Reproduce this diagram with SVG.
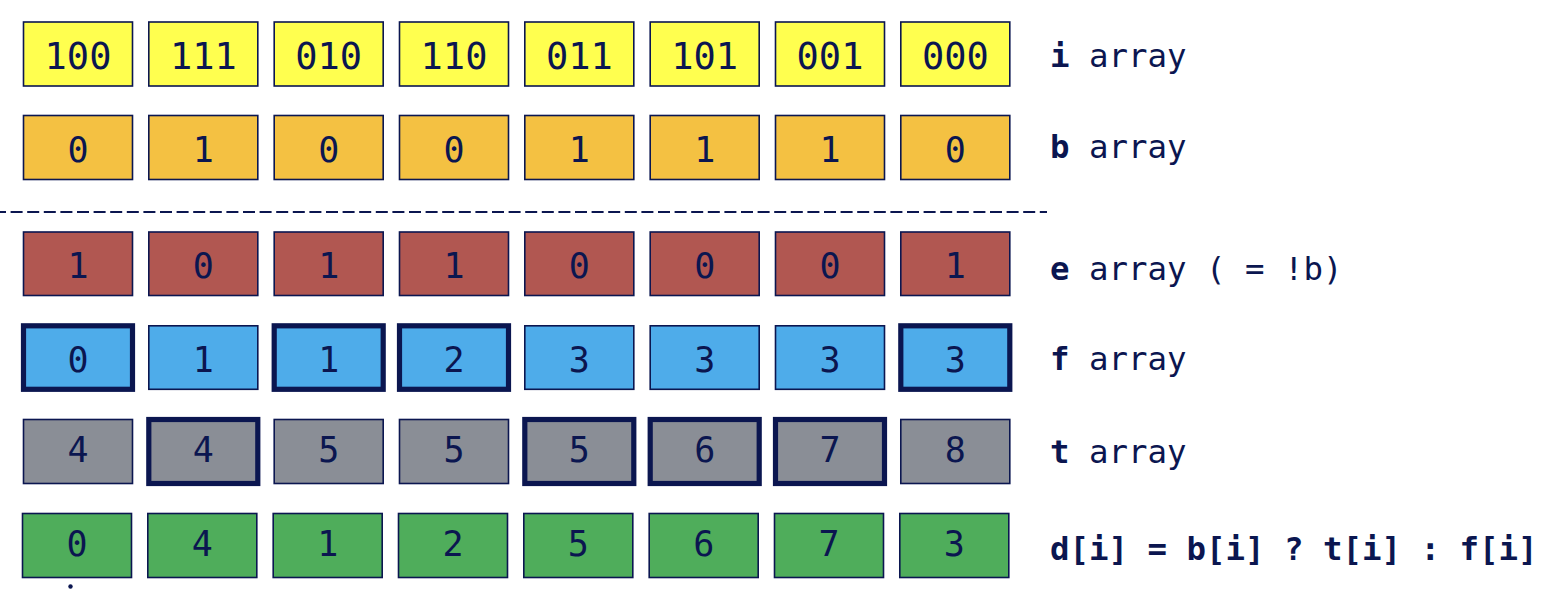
<svg xmlns="http://www.w3.org/2000/svg" width="1556" height="594" viewBox="0 0 1556 594">
<style>
.box{stroke:#0b1650;stroke-width:1.6}
.thick{stroke:#0b1650;stroke-width:5.2}
.num{font-family:"DejaVu Sans Mono",monospace;font-size:35px;fill:#0b1650;text-anchor:middle}
.big{font-size:37px}
.lbl{font-family:"DejaVu Sans Mono",monospace;font-size:32.4px;fill:#0b1650}
.b{font-weight:bold}
.yi{fill:#ffff4f}.yb{fill:#f4c142}.ye{fill:#b15751}.yf{fill:#4eacea}.yt{fill:#8a8e96}.yd{fill:#4fad5b}
</style>
<rect width="1556" height="594" fill="#ffffff"/>
<g id="connectors">
<line x1="0" y1="212" x2="1047" y2="212" stroke="#0b1650" stroke-width="1.8" stroke-dasharray="12,4.6" stroke-dashoffset="6"/>
<circle cx="70.5" cy="586.5" r="2.2" fill="#0b1650"/>
</g>
<g id="row-i">
<rect class="box yi" x="23.5" y="22" width="109" height="64"/><text class="num big" x="78" y="68.5">100</text>
<rect class="box yi" x="148.8" y="22" width="109" height="64"/><text class="num big" x="203.3" y="68.5">111</text>
<rect class="box yi" x="274.2" y="22" width="109" height="64"/><text class="num big" x="328.7" y="68.5">010</text>
<rect class="box yi" x="399.5" y="22" width="109" height="64"/><text class="num big" x="454" y="68.5">110</text>
<rect class="box yi" x="524.8" y="22" width="109" height="64"/><text class="num big" x="579.3" y="68.5">011</text>
<rect class="box yi" x="650.2" y="22" width="109" height="64"/><text class="num big" x="704.7" y="68.5">101</text>
<rect class="box yi" x="775.5" y="22" width="109" height="64"/><text class="num big" x="830" y="68.5">001</text>
<rect class="box yi" x="900.8" y="22" width="109" height="64"/><text class="num big" x="955.3" y="68.5">000</text>
<text class="lbl" x="1050" y="67"><tspan class="b">i</tspan> array</text>
</g>
<g id="row-b">
<rect class="box yb" x="23.5" y="115.5" width="109" height="64"/><text class="num" x="78" y="161.5">0</text>
<rect class="box yb" x="148.8" y="115.5" width="109" height="64"/><text class="num" x="203.3" y="161.5">1</text>
<rect class="box yb" x="274.2" y="115.5" width="109" height="64"/><text class="num" x="328.7" y="161.5">0</text>
<rect class="box yb" x="399.5" y="115.5" width="109" height="64"/><text class="num" x="454" y="161.5">0</text>
<rect class="box yb" x="524.8" y="115.5" width="109" height="64"/><text class="num" x="579.3" y="161.5">1</text>
<rect class="box yb" x="650.2" y="115.5" width="109" height="64"/><text class="num" x="704.7" y="161.5">1</text>
<rect class="box yb" x="775.5" y="115.5" width="109" height="64"/><text class="num" x="830" y="161.5">1</text>
<rect class="box yb" x="900.8" y="115.5" width="109" height="64"/><text class="num" x="955.3" y="161.5">0</text>
<text class="lbl" x="1050" y="158"><tspan class="b">b</tspan> array</text>
</g>
<g id="row-e">
<rect class="box ye" x="23.5" y="232" width="109" height="63.5"/><text class="num" x="78" y="278">1</text>
<rect class="box ye" x="148.8" y="232" width="109" height="63.5"/><text class="num" x="203.3" y="278">0</text>
<rect class="box ye" x="274.2" y="232" width="109" height="63.5"/><text class="num" x="328.7" y="278">1</text>
<rect class="box ye" x="399.5" y="232" width="109" height="63.5"/><text class="num" x="454" y="278">1</text>
<rect class="box ye" x="524.8" y="232" width="109" height="63.5"/><text class="num" x="579.3" y="278">0</text>
<rect class="box ye" x="650.2" y="232" width="109" height="63.5"/><text class="num" x="704.7" y="278">0</text>
<rect class="box ye" x="775.5" y="232" width="109" height="63.5"/><text class="num" x="830" y="278">0</text>
<rect class="box ye" x="900.8" y="232" width="109" height="63.5"/><text class="num" x="955.3" y="278">1</text>
<text class="lbl" x="1050" y="280"><tspan class="b">e</tspan> array ( = !b)</text>
</g>
<g id="row-f">
<rect class="thick yf" x="23.5" y="325.8" width="109" height="63.5"/><text class="num" x="78" y="372">0</text>
<rect class="box yf" x="148.8" y="325.8" width="109" height="63.5"/><text class="num" x="203.3" y="372">1</text>
<rect class="thick yf" x="274.2" y="325.8" width="109" height="63.5"/><text class="num" x="328.7" y="372">1</text>
<rect class="thick yf" x="399.5" y="325.8" width="109" height="63.5"/><text class="num" x="454" y="372">2</text>
<rect class="box yf" x="524.8" y="325.8" width="109" height="63.5"/><text class="num" x="579.3" y="372">3</text>
<rect class="box yf" x="650.2" y="325.8" width="109" height="63.5"/><text class="num" x="704.7" y="372">3</text>
<rect class="box yf" x="775.5" y="325.8" width="109" height="63.5"/><text class="num" x="830" y="372">3</text>
<rect class="thick yf" x="900.8" y="325.8" width="109" height="63.5"/><text class="num" x="955.3" y="372">3</text>
<text class="lbl" x="1050" y="370"><tspan class="b">f</tspan> array</text>
</g>
<g id="row-t">
<rect class="box yt" x="23.5" y="419.5" width="109" height="64"/><text class="num" x="78" y="461.5">4</text>
<rect class="thick yt" x="148.8" y="419.5" width="109" height="64"/><text class="num" x="203.3" y="461.5">4</text>
<rect class="box yt" x="274.2" y="419.5" width="109" height="64"/><text class="num" x="328.7" y="461.5">5</text>
<rect class="box yt" x="399.5" y="419.5" width="109" height="64"/><text class="num" x="454" y="461.5">5</text>
<rect class="thick yt" x="524.8" y="419.5" width="109" height="64"/><text class="num" x="579.3" y="461.5">5</text>
<rect class="thick yt" x="650.2" y="419.5" width="109" height="64"/><text class="num" x="704.7" y="461.5">6</text>
<rect class="thick yt" x="775.5" y="419.5" width="109" height="64"/><text class="num" x="830" y="461.5">7</text>
<rect class="box yt" x="900.8" y="419.5" width="109" height="64"/><text class="num" x="955.3" y="461.5">8</text>
<text class="lbl" x="1050" y="463"><tspan class="b">t</tspan> array</text>
</g>
<g id="row-d">
<rect class="box yd" x="22.5" y="513.5" width="109" height="64"/><text class="num" x="77" y="555.5">0</text>
<rect class="box yd" x="147.8" y="513.5" width="109" height="64"/><text class="num" x="202.3" y="555.5">4</text>
<rect class="box yd" x="273.2" y="513.5" width="109" height="64"/><text class="num" x="327.7" y="555.5">1</text>
<rect class="box yd" x="398.5" y="513.5" width="109" height="64"/><text class="num" x="453" y="555.5">2</text>
<rect class="box yd" x="523.8" y="513.5" width="109" height="64"/><text class="num" x="578.3" y="555.5">5</text>
<rect class="box yd" x="649.2" y="513.5" width="109" height="64"/><text class="num" x="703.7" y="555.5">6</text>
<rect class="box yd" x="774.5" y="513.5" width="109" height="64"/><text class="num" x="829" y="555.5">7</text>
<rect class="box yd" x="899.8" y="513.5" width="109" height="64"/><text class="num" x="954.3" y="555.5">3</text>
<text class="lbl b" x="1050" y="560">d[i] = b[i] ? t[i] : f[i]</text>
</g>
</svg>
